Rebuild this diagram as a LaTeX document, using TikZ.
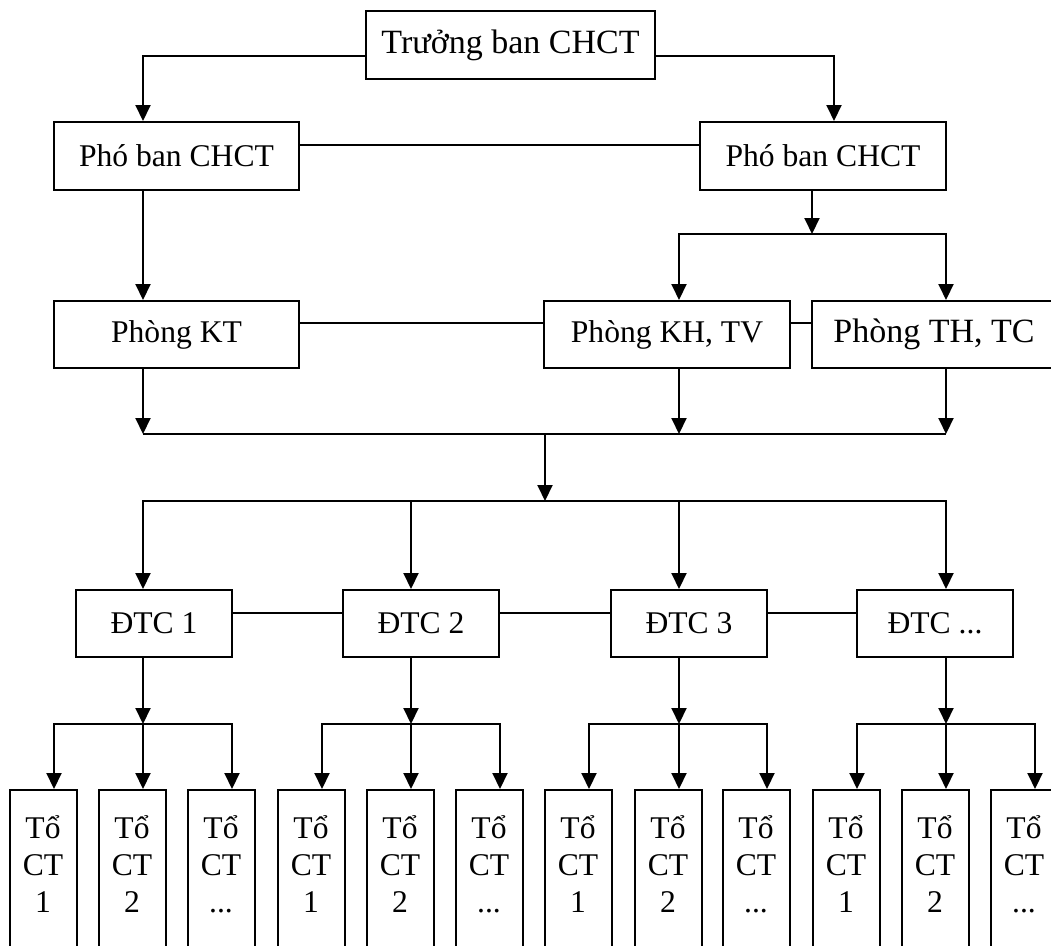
\documentclass[tikz,border=0pt]{standalone}
\usepackage{fontspec}
\setmainfont{Liberation Serif}
\usetikzlibrary{arrows.meta,positioning}
\tikzset{
  box/.style={rectangle, draw, line width=2pt, inner sep=0pt, align=center,
    minimum height=67pt, font=\fontsize{31.6}{34}\selectfont},
  bigbox/.style={box, font=\fontsize{34}{36}\selectfont},
  tobox/.style={box, minimum width=67pt, minimum height=160pt,
    font=\fontsize{31.6}{37}\selectfont,
    execute at end node={\rule[-12pt]{0pt}{0pt}}},
  arr/.style={-{Triangle[length=16pt,width=15pt]}},
  every picture/.style={line cap=butt, line join=miter}
}

\begin{document}
\begin{tikzpicture}[x=1pt, y=-1pt, line width=2pt]
  \useasboundingbox (0,0) rectangle (1051,945);
  \clip (0,0) rectangle (1051,945);

  \node[bigbox, minimum width=289pt, minimum height=68pt] (tb) at (510.5,45) {Trưởng ban CHCT};
  \node[box, minimum width=245pt, minimum height=68pt] (pb1) at (176.5,156) {Phó ban CHCT};
  \node[box, minimum width=246pt, minimum height=68pt] (pb2) at (823,156) {Phó ban CHCT};

  \node[box, minimum width=245pt] (pk1) at (176.5,334.5) {Phòng KT};
  \node[box, minimum width=246pt] (pk2) at (667,334.5) {Phòng KH, TV};
  \node[bigbox, minimum width=244pt] (pk3) at (934,334.5) {Phòng TH, TC};

  \node[box, minimum width=156pt] (d1) at (154,623.5) {ĐTC 1};
  \node[box, minimum width=156pt] (d2) at (421,623.5) {ĐTC 2};
  \node[box, minimum width=156pt] (d3) at (689,623.5) {ĐTC 3};
  \node[box, minimum width=156pt] (d4) at (935,623.5) {ĐTC ...};

  \node[tobox] (t11) at (43,870) {Tổ\\CT\\1};
  \node[tobox] (t12) at (132,870) {Tổ\\CT\\2};
  \node[tobox] (t13) at (221,870) {Tổ\\CT\\...};
  \node[tobox] (t21) at (311,870) {Tổ\\CT\\1};
  \node[tobox] (t22) at (400,870) {Tổ\\CT\\2};
  \node[tobox] (t23) at (489,870) {Tổ\\CT\\...};
  \node[tobox] (t31) at (578,870) {Tổ\\CT\\1};
  \node[tobox] (t32) at (668,870) {Tổ\\CT\\2};
  \node[tobox] (t33) at (756,870) {Tổ\\CT\\...};
  \node[tobox] (t41) at (846,870) {Tổ\\CT\\1};
  \node[tobox] (t42) at (935,870) {Tổ\\CT\\2};
  \node[tobox] (t43) at (1024,870) {Tổ\\CT\\...};

  \coordinate (bus0) at (812,234);
  \coordinate (bus1) at (545,434);
  \coordinate (bus2) at (545,501);
  \coordinate (g1) at (143,724);
  \coordinate (g2) at (411,724);
  \coordinate (g3) at (679,724);
  \coordinate (g4) at (946,724);

  % top levels
  \draw[arr] ([yshift=-11pt]tb.west) -| ([xshift=-33.5pt]pb1.north);
  \draw[arr] ([yshift=-11pt]tb.east) -| ([xshift=11pt]pb2.north);
  \draw ([yshift=11pt]pb1.east) -- ([yshift=11pt]pb2.west);
  \draw[arr] ([xshift=-33.5pt]pb1.south) -- ([xshift=-33.5pt]pk1.north);
  \draw[arr] ([xshift=-11pt]pb2.south) -- (bus0);
  \draw[arr] (bus0) -| ([xshift=12pt]pk2.north);
  \draw[arr] (bus0) -| ([xshift=12pt]pk3.north);
  \draw ([yshift=11.5pt]pk1.east) -- ([yshift=11.5pt]pk2.west);
  \draw ([yshift=11.5pt]pk2.east) -- ([yshift=11.5pt]pk3.west);

  % offices to teams
  \coordinate (k1) at ([xshift=-33.5pt]pk1.south);
  \coordinate (k2) at ([xshift=12pt]pk2.south);
  \coordinate (k3) at ([xshift=12pt]pk3.south);
  \draw[arr] (k1) -- (k1 |- bus1);
  \draw[arr] (k2) -- (k2 |- bus1);
  \draw[arr] (k3) -- (k3 |- bus1);
  \draw (k1 |- bus1) -- (k3 |- bus1);
  \draw[arr] (bus1) -- (bus2);
  \draw[arr] (bus2) -| ([xshift=-11pt]d1.north);
  \draw[arr] (bus2) -| ([xshift=-10pt]d2.north);
  \draw[arr] (bus2) -| ([xshift=-10pt]d3.north);
  \draw[arr] (bus2) -| ([xshift=11pt]d4.north);
  \draw ([yshift=11pt]d1.east) -- ([yshift=11pt]d2.west);
  \draw ([yshift=11pt]d2.east) -- ([yshift=11pt]d3.west);
  \draw ([yshift=11pt]d3.east) -- ([yshift=11pt]d4.west);

  % teams to groups
  \draw[arr] ([xshift=-11pt]d1.south) -- (g1);
  \draw[arr] (g1) -| ([xshift=11pt]t11.north);
  \draw[arr] (g1) -- ([xshift=11pt]t12.north);
  \draw[arr] (g1) -| ([xshift=11pt]t13.north);
  \draw[arr] ([xshift=-10pt]d2.south) -- (g2);
  \draw[arr] (g2) -| ([xshift=11pt]t21.north);
  \draw[arr] (g2) -- ([xshift=11pt]t22.north);
  \draw[arr] (g2) -| ([xshift=11pt]t23.north);
  \draw[arr] ([xshift=-10pt]d3.south) -- (g3);
  \draw[arr] (g3) -| ([xshift=11pt]t31.north);
  \draw[arr] (g3) -- ([xshift=11pt]t32.north);
  \draw[arr] (g3) -| ([xshift=11pt]t33.north);
  \draw[arr] ([xshift=11pt]d4.south) -- (g4);
  \draw[arr] (g4) -| ([xshift=11pt]t41.north);
  \draw[arr] (g4) -- ([xshift=11pt]t42.north);
  \draw[arr] (g4) -| ([xshift=11pt]t43.north);
\end{tikzpicture}
\end{document}
